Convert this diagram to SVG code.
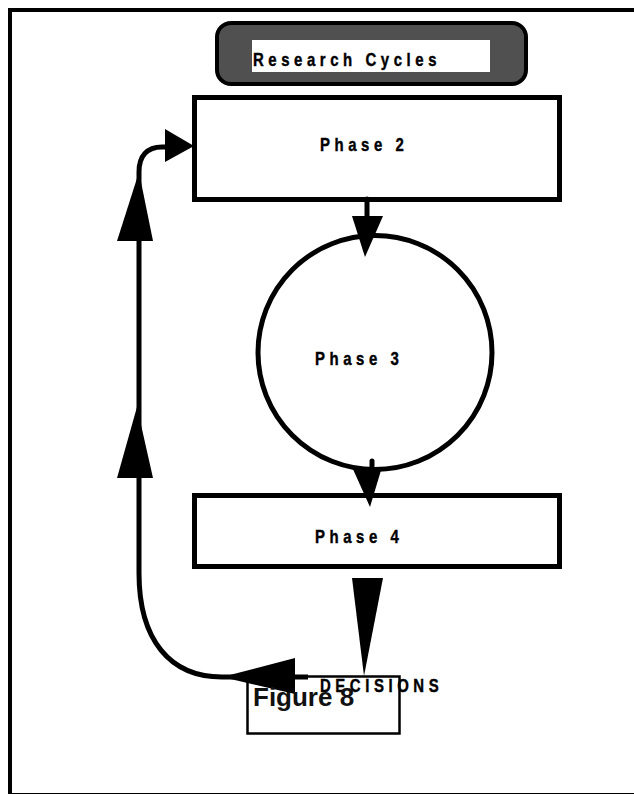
<svg xmlns="http://www.w3.org/2000/svg" width="634" height="794" viewBox="0 0 634 794">
<style>
.lbl{font-family:"Liberation Sans",Arial,sans-serif;font-weight:bold;font-size:18px;letter-spacing:5.5px;fill:#000;stroke:#000;stroke-width:0.4}
.box{fill:#fff;stroke:#000;stroke-width:5}
.ln{fill:none;stroke:#000;stroke-width:5}
.hd{fill:#000;stroke:none}
</style>
<rect x="0" y="0" width="634" height="794" fill="#fff"/>
<rect x="10" y="10" width="700" height="785" fill="none" stroke="#000" stroke-width="4"/>
<g id="title">
<rect x="217" y="23" width="309" height="61" rx="14" fill="#505050" stroke="#000" stroke-width="4"/>
<rect x="252" y="40" width="238" height="32" fill="#fff"/>
<text class="lbl" transform="translate(253,66) scale(0.83,1)">Research Cycles</text>
</g>
<g id="phase2">
<rect class="box" x="194.5" y="97.5" width="365" height="102"/>
<text class="lbl" transform="translate(320,151) scale(0.83,1)">Phase 2</text>
</g>
<g id="phase3">
<circle class="box" cx="375" cy="352.5" r="117"/>
<text class="lbl" transform="translate(315,365) scale(0.83,1)">Phase 3</text>
</g>
<g id="phase4">
<rect class="box" x="194.5" y="495.5" width="365" height="71"/>
<text class="lbl" transform="translate(315,543) scale(0.83,1)">Phase 4</text>
</g>
<g id="decisions">
<rect x="247.5" y="676.5" width="152" height="57" fill="none" stroke="#000" stroke-width="2.5"/>
</g>
<g id="connectors">
<line class="ln" x1="367" y1="199" x2="367" y2="225" stroke-linecap="round"/>
<polygon class="hd" points="352,216 383,216 365,257"/>
<line class="ln" x1="372" y1="461" x2="372" y2="475" stroke-linecap="round"/>
<polygon class="hd" points="352,467 382,467 370,507"/>
<polygon class="hd" points="352,578 383,578 364,676"/>
<path class="ln" d="M308 677 L222 677 C170 677 139 640 139 573 L139 172 C139 156 147 147 162 147 L172 147"/>
<polygon class="hd" points="222,677 295,658 295,694"/>
<polygon class="hd" points="117,478 153,478 137,407"/>
<polygon class="hd" points="117,241 153,241 139,172"/>
<polygon class="hd" points="165,129 165,162 194,146"/>
</g>
<text class="lbl" transform="translate(320,692) scale(0.83,1)">DECISIONS</text>
<text x="253" y="706" font-family="Liberation Sans, Arial, sans-serif" font-weight="bold" font-size="26" fill="#111">Figure 8</text>
</svg>
